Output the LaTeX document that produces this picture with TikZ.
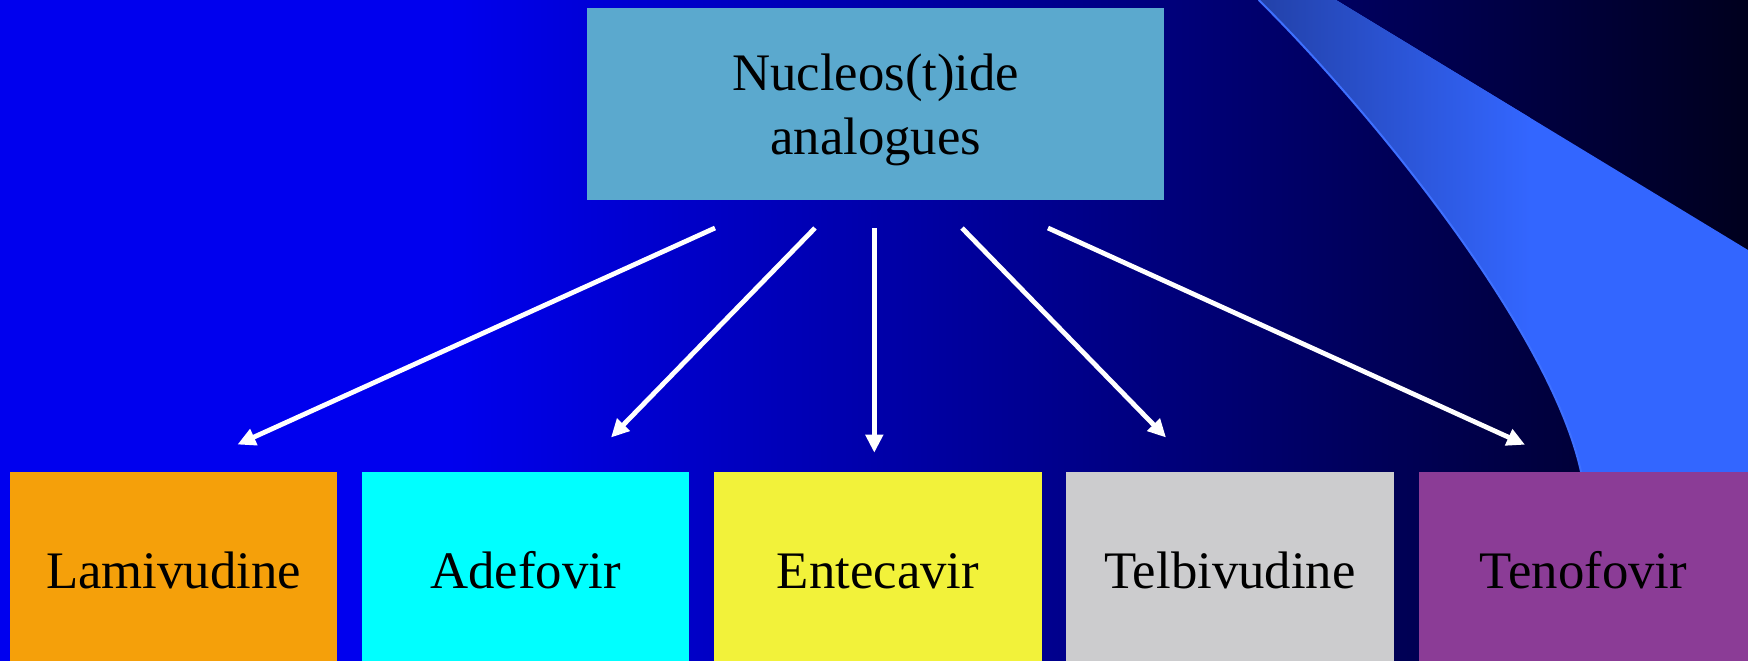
\documentclass[tikz,border=0pt]{standalone}
\usepackage{fontspec}
\setmainfont{Liberation Serif}
\usepackage{tikz}
\usetikzlibrary{arrows.meta,positioning,calc}

\definecolor{bgblue}{RGB}{0,0,238}
\definecolor{bgdark}{RGB}{0,0,28}
\definecolor{swdark}{RGB}{34,64,166}
\definecolor{swlight}{RGB}{51,102,255}
\definecolor{swedge}{RGB}{62,112,255}
\definecolor{nucfill}{RGB}{91,169,206}
\definecolor{lamfill}{RGB}{245,160,10}
\definecolor{adefill}{RGB}{0,255,255}
\definecolor{entfill}{RGB}{242,242,58}
\definecolor{telfill}{RGB}{204,204,206}
\definecolor{tenfill}{RGB}{139,60,150}

\begin{document}
\begin{tikzpicture}[
    x=0.01cm, y=-0.01cm,
    >=Triangle,
    box/.style={rectangle, inner sep=0pt, align=center, text=black,
                font=\fontsize{15pt}{18pt}\selectfont},
    head/.style={box, fill=nucfill, minimum width=5.763cm, minimum height=1.917cm},
    drug/.style={box, minimum width=3.27cm, minimum height=1.985cm,
                 text height=9.8pt, text depth=0pt},
    arr/.style={-{Triangle[length=0.18cm, width=0.17cm]}, line width=0.048cm, draw=white}
  ]
  \useasboundingbox (0,0) rectangle (1748,660);

  % background
  \fill[bgblue] (-10,-10) rectangle (451,670);
  \shade[left color=bgblue, right color=bgdark] (450,-10) rectangle (1758,670);

  % swoosh in the corner
  \begin{scope}
    \clip (1258.7,0) .. controls (1370,110) and (1550,330) .. (1581,471.7)
          -- (1593,530) -- (1758,530) -- (1758,250) -- (1748,250) -- (1336,0)
          -- (1250,-10) -- cycle;
    \fill[swlight] (1240,-10) rectangle (1758,530);
    \shade[left color=swdark, right color=swlight] (1250,-10) rectangle (1530,530);
  \end{scope}
  \draw[swedge, line width=0.02cm] (1258.7,0) .. controls (1370,110) and (1550,330) .. (1581,471.7)
        -- (1593,530);

  \node[head] (nuc) at (875.7,103.6) {\rule{0pt}{14pt}Nucleos(t)ide\\analogues};
  \node[drug, fill=lamfill] (lam) at (173.5,570.8) {Lamivudine};
  \node[drug, fill=adefill] (ade) at (525.5,570.8) {Adefovir};
  \node[drug, fill=entfill] (ent) at (878,570.8) {Entecavir};
  \node[drug, fill=telfill] (tel) at (1230,570.8) {Telbivudine};
  \node[drug, fill=tenfill, minimum width=3.39cm] (ten) at (1588.5,570.8) {\hspace*{-0.1cm}Tenofovir};

  \coordinate (s1) at (715,228);
  \coordinate (s2) at (815,228);
  \coordinate (s3) at (874.3,228);
  \coordinate (s4) at (962,228);
  \coordinate (s5) at (1048,228);
  \coordinate (e1) at (237.5,444.5);
  \coordinate (e2) at (611,437.5);
  \coordinate (e3) at (874.3,452.7);
  \coordinate (e4) at (1166,437.5);
  \coordinate (e5) at (1525,444.7);

  \draw[arr] (s1) -- (e1);
  \draw[arr] (s2) -- (e2);
  \draw[arr] (s3) -- (e3);
  \draw[arr] (s4) -- (e4);
  \draw[arr] (s5) -- (e5);
\end{tikzpicture}
\end{document}
